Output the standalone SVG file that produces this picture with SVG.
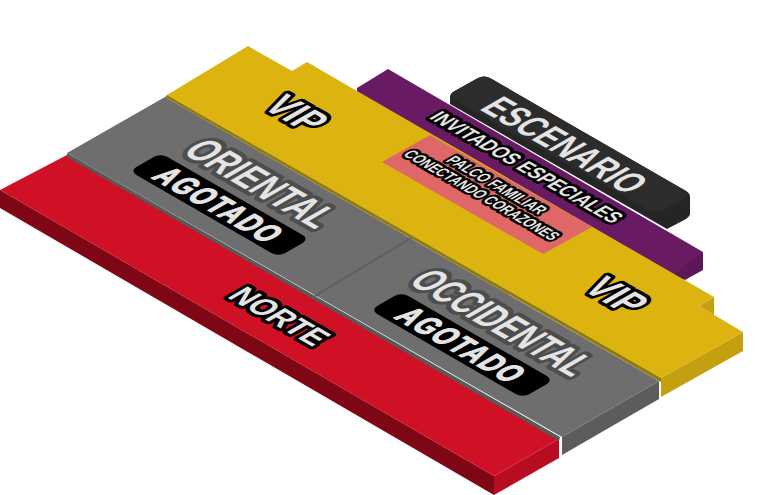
<svg xmlns="http://www.w3.org/2000/svg" width="768" height="495" viewBox="0 0 768 495">
<style>
text{font-family:"Liberation Sans",Arial,sans-serif;font-weight:700;text-anchor:middle;fill:#e4e4e4;paint-order:stroke;stroke-linejoin:round}
.k{stroke:#000}
.g{stroke:#4d4d4d}
.a{stroke:#e4e4e4;stroke-width:1.5}
</style>
<rect width="768" height="495" fill="#fff"/>
<g id="escenario">
<path d="M450 97Q450 94 453 92L478 78Q484 75 490 78L686 191Q690 193 690 197L690 214Q690 216 686 219L667 229L450 104Z" fill="#252525"/>
<path d="M450 97Q450 94 453 92L478 78Q484 75 490 78L686 191Q690 194 686 197L666 209Q656 214 648 210L453 99Q450 98 450 97Z" fill="#2c2c2c"/>
<text transform="matrix(.866 .5 -.866 .5 565 145)" y="14" font-size="40" textLength="172" lengthAdjust="spacingAndGlyphs">ESCENARIO</text>
</g>
<g id="invitados">
<polygon points="703,252 703,270 685,280 655,270" fill="#5a1855"/>
<polygon points="388,69 703,252 672,276 357,93 357,88" fill="#681b62"/>
<text class="k" transform="matrix(.866 .5 -.866 .5 527 167)" y="8" font-size="22" stroke-width="7" textLength="212" lengthAdjust="spacingAndGlyphs">INVITADOS ESPECIALES</text>
</g>
<g id="vip">
<polygon points="714,297 714,315 699,306" fill="#c4a010"/>
<polygon points="743,332 743,351 661,397 661,378" fill="#c4a010"/>
<polygon points="248,46 292,71 307,62 350,87 357,91 714,297 699,306 743,332 661,378 167,95" fill="#ddb30f"/>
<text class="k" transform="matrix(.866 .5 -.866 .5 297 113)" y="15" font-size="42" stroke-width="8" textLength="52" lengthAdjust="spacingAndGlyphs">VIP</text>
<text class="k" transform="matrix(.866 .5 -.866 .5 617 295)" y="15" font-size="42" stroke-width="8" textLength="52" lengthAdjust="spacingAndGlyphs">VIP</text>
</g>
<g id="palco">
<polygon points="430,135 592,227 543,254 382,162" fill="#e06767"/>
<text class="k" transform="matrix(.866 .5 -.866 .5 497 185)" y="6" font-size="17" stroke-width="6" textLength="108" lengthAdjust="spacingAndGlyphs">PALCO FAMILIAR</text>
<text class="k" transform="matrix(.866 .5 -.866 .5 482 195)" y="6" font-size="17" stroke-width="6" textLength="172" lengthAdjust="spacingAndGlyphs">CONECTANDO CORAZONES</text>
</g>
<g id="gradas">
<polygon points="659,381 659,399 562,455 562,437" fill="#5c5c5c"/>
<polygon points="165,97 659,381 562,437 67,153" fill="#6e6e6e"/>
<polygon points="167,95 661,378 661,382 165,97" fill="#8f7a0a"/>
<line x1="315" y1="296" x2="411" y2="238" stroke="#5e5e5e" stroke-width="2"/>
</g>
<g id="oriental">
<text class="g" transform="matrix(.866 .5 -.866 .5 262 183)" y="16" font-size="44" stroke-width="10" textLength="155" lengthAdjust="spacingAndGlyphs">ORIENTAL</text>
<rect x="-86" y="-18" width="172" height="36" rx="8" transform="matrix(.866 .5 -.866 .5 219.500 205)" fill="#000"/>
<text class="a" transform="matrix(.866 .5 -.866 .5 219.500 205) scale(.7 1)" y="12" font-size="34" letter-spacing="3">AGOTADO</text>
</g>
<g id="occidental">
<text class="g" transform="matrix(.866 .5 -.866 .5 503 322)" y="16" font-size="44" stroke-width="10" textLength="190" lengthAdjust="spacingAndGlyphs">OCCIDENTAL</text>
<rect x="-88" y="-18" width="176" height="36" rx="8" transform="matrix(.866 .5 -.866 .5 462 345)" fill="#000"/>
<text class="a" transform="matrix(.866 .5 -.866 .5 462 345) scale(.7 1)" y="12" font-size="34" letter-spacing="3">AGOTADO</text>
</g>
<g id="norte">
<polygon points="0,190 494,476 494,495 0,208" fill="#7f0614"/>
<polygon points="559,439 559,458 494,495 494,476" fill="#b80d20"/>
<polygon points="67,155 559,439 494,476 0,190" fill="#cf1025"/>
<polygon points="67,153 560,437 559,441 67,157" fill="#595959"/>
<text class="k" transform="matrix(.866 .5 -.866 .5 280 316)" y="12" font-size="33" stroke-width="8" textLength="100" lengthAdjust="spacingAndGlyphs">NORTE</text>
</g>
</svg>
